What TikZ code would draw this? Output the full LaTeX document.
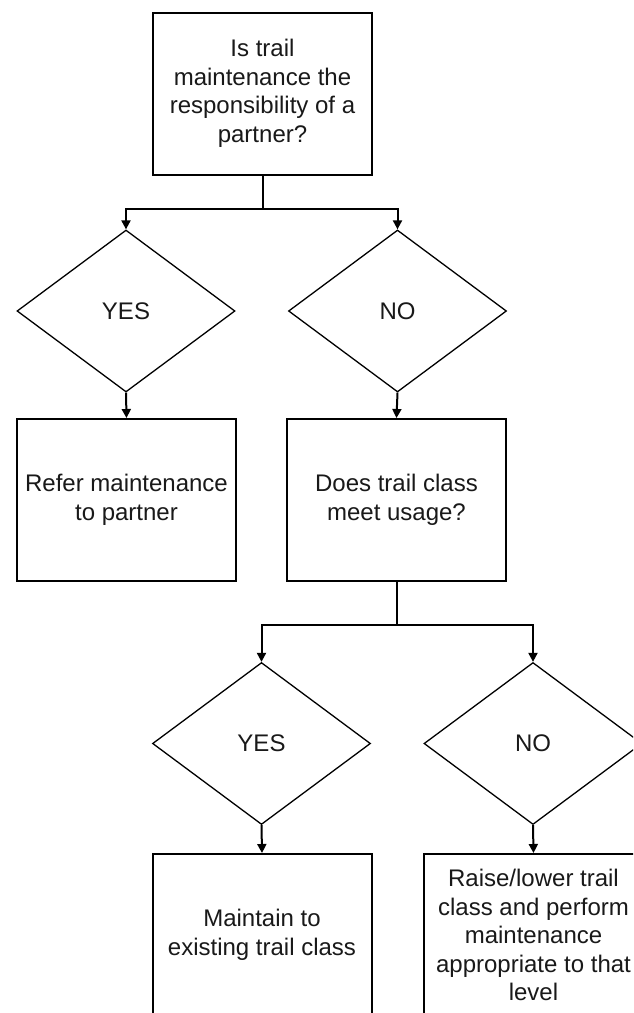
\documentclass[tikz,border=0pt]{standalone}
\usepackage{fontspec}
\setmainfont{Liberation Sans}
\usetikzlibrary{shapes.geometric,arrows.meta}
\begin{document}
\begin{tikzpicture}[x=1pt,y=-1pt,
  every node/.style={font=\fontsize{24}{28.5}\selectfont, text=black!90, align=center, inner sep=0pt},
  stepbox/.style={draw=black, line width=2pt, rectangle, minimum width=219pt, minimum height=162pt},
  choice/.style={draw=black, line width=1.3pt, diamond, minimum width=218pt, minimum height=162pt},
  link/.style={draw=black, line width=2pt},
  arr/.style={link, -{Triangle[length=9pt,width=9pt]}}]
  \useasboundingbox (0,0) rectangle (633,1013);
  \clip (0,0) rectangle (633,1013);
  \fill[white] (0,0) rectangle (633,1013);

  % first question and its two answers
  \node[stepbox] (q1) at (262.5,93.5) {Is trail\\maintenance the\\responsibility of a\\partner?};
  \node[choice] (yes1) at (126,311) {YES};
  \node[choice] (no1) at (397.5,311) {NO};
  \node[stepbox] (refer) at (126.5,500) {Refer maintenance\\to partner};
  \node[stepbox] (q2) at (396.5,500) {Does trail class\\meet usage?};

  % second question and its two answers
  \node[choice] (yes2) at (261.5,743.5) {YES};
  \node[choice] (no2) at (533,743.5) {NO};
  \node[stepbox] (keep) at (262,935) {Maintain to\\existing trail class};
  \node[stepbox] (change) at (533.5,935) {Raise/lower trail\\class and perform\\maintenance\\appropriate to that\\level};

  % branch points
  \coordinate (j1) at (262.5,209);
  \coordinate (j2) at (396.5,625);

  \draw[link] (q1.south) -- (j1);
  \draw[arr] (j1) -| (yes1.north);
  \draw[arr] (j1) -| (no1.north);
  \draw[arr] (yes1.south) -- (refer.north);
  \draw[arr] (no1.south) -- (q2.north);

  \draw[link] (q2.south) -- (j2);
  \draw[arr] (j2) -| (yes2.north);
  \draw[arr] (j2) -| (no2.north);
  \draw[arr] (yes2.south) -- (keep.north);
  \draw[arr] (no2.south) -- (change.north);
\end{tikzpicture}
\end{document}
